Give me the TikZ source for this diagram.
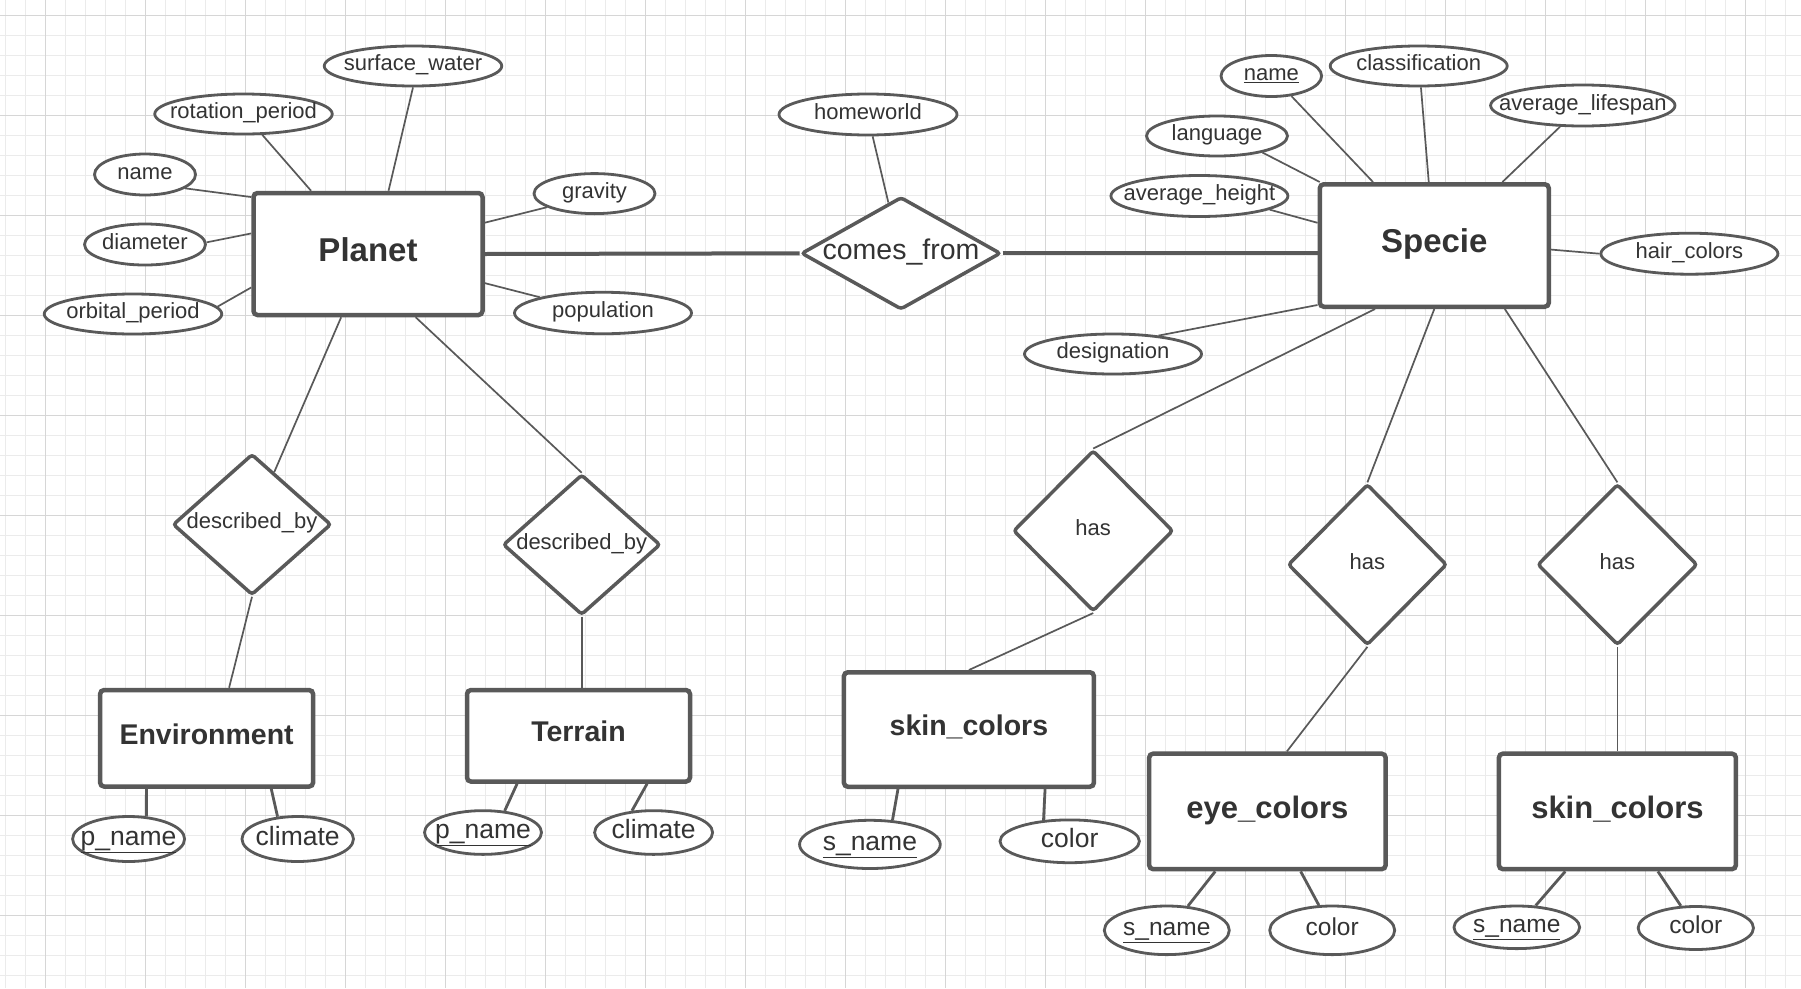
\documentclass[tikz,border=0pt]{standalone}
\usepackage{fontspec}
\setmainfont{Liberation Sans}
\usetikzlibrary{shapes.geometric}
\definecolor{ln}{HTML}{595959}
\definecolor{tx}{HTML}{333333}
\definecolor{gmin}{HTML}{EBEBEB}
\definecolor{gmaj}{HTML}{D6D6D6}
\newcommand\mybox[1]{\makebox[0pt]{#1}}
\begin{document}
\begin{tikzpicture}[x=1pt,y=-1pt,
 ent/.style={draw=ln, line width=4.5pt, rounded corners=4pt, fill=white, text=tx, inner sep=0pt,
   font=\fontsize{28.5}{30}\selectfont\bfseries, text height=20.4pt, text depth=9pt},
 mident/.style={ent, font=\fontsize{31}{33}\selectfont\bfseries, text height=22.2pt},
 bigent/.style={ent, font=\fontsize{33}{35}\selectfont\bfseries, text height=23.6pt},
 attr/.style={ellipse, draw=ln, line width=2.8pt, fill=white, text=tx, inner sep=0pt,
   font=\fontsize{22}{24}\selectfont, text height=15.8pt, text depth=6pt},
 attrL/.style={attr, font=\fontsize{26.5}{28}\selectfont, text height=19pt, text depth=7pt},
 attrM/.style={attr, font=\fontsize{24.5}{26}\selectfont, text height=17.6pt, text depth=7pt},
 rel/.style={diamond, draw=ln, line width=3.5pt, rounded corners=3pt, fill=white, text=tx, inner sep=0pt,
   font=\fontsize{22}{24}\selectfont, text height=15.8pt, text depth=7pt},
 bigrel/.style={rel, font=\fontsize{28.5}{30}\selectfont, text height=20.4pt, text depth=8pt},
 conn/.style={draw=ln, line width=1.7pt},
 conn2/.style={draw=ln, line width=2.8pt},
 bond/.style={draw=ln, line width=4pt},
 gridmin/.style={draw=gmin, line width=1pt},
 gridmaj/.style={draw=gmaj, line width=1pt}
]
\useasboundingbox (0,0) rectangle (1801,988);
\fill[white] (0,0) rectangle (1801,988);
% grid
\foreach \x in {5,25,...,1795} \draw[gridmin] (\x,0) -- (\x,988);
\foreach \y in {15,35,...,975} \draw[gridmin] (0,\y) -- (1801,\y);
\foreach \x in {45,145,...,1745} \draw[gridmaj] (\x,0) -- (\x,988);
\foreach \y in {15,115,...,915} \draw[gridmaj] (0,\y) -- (1801,\y);

% entities
\node[bigent, minimum width=229pt, minimum height=122pt] (planet) at (368,254) {\mybox{Planet}};
\node[bigent, minimum width=229pt, minimum height=122.5pt] (specie) at (1434.3,245.5) {\mybox{Specie}};
\node[ent, minimum width=213pt, minimum height=96.5pt] (env) at (206.6,738.3) {\mybox{Environment}};
\node[ent, minimum width=223pt, minimum height=91.5pt] (terrain) at (578.5,735.8) {\mybox{Terrain}};
\node[ent, minimum width=250pt, minimum height=114.5pt] (skin1) at (968.9,729.5) {\mybox{skin\_colors}};
\node[mident, minimum width=236.5pt, minimum height=115.5pt] (eye) at (1267.4,811.4) {\mybox{eye\_colors}};
\node[mident, minimum width=237pt, minimum height=115.5pt] (skin2) at (1617.4,811.4) {\mybox{skin\_colors}};

% relationships
\node[bigrel, minimum width=199.5pt, minimum height=112.5pt] (comes) at (901,253.3) {\mybox{comes\_from}};
\node[rel, minimum width=158.5pt, minimum height=141pt] (dby1) at (252,524.5) {\mybox{described\_by}};
\node[rel, minimum width=157.5pt, minimum height=140.5pt] (dby2) at (581.7,544.7) {\mybox{described\_by}};
\node[rel, minimum width=160pt, minimum height=161pt] (has1) at (1093.2,530.8) {\mybox{has}};
\node[rel, minimum width=159pt, minimum height=161pt] (has2) at (1367.4,564.6) {\mybox{has}};
\node[rel, minimum width=160pt, minimum height=161pt] (has3) at (1617.4,564.6) {\mybox{has}};

% planet attributes
\node[attr, minimum width=177.5pt, minimum height=40pt] (sw) at (413,66) {\mybox{surface\_water}};
\node[attr, minimum width=177.5pt, minimum height=40pt] (rp) at (243.5,114) {\mybox{rotation\_period}};
\node[attr, minimum width=101pt, minimum height=41pt] (pn) at (145,174.5) {\mybox{name}};
\node[attr, minimum width=121pt, minimum height=41pt] (dia) at (145,244.5) {\mybox{diameter}};
\node[attr, minimum width=177.5pt, minimum height=40pt] (op) at (133,314) {\mybox{orbital\_period}};
\node[attr, minimum width=121pt, minimum height=40pt] (grav) at (594.5,193.6) {\mybox{gravity}};
\node[attr, minimum width=177pt, minimum height=41.5pt] (pop) at (603,313) {\mybox{population}};
\node[attr, minimum width=178pt, minimum height=41pt] (hw) at (868,114.5) {\mybox{homeworld}};

% specie attributes
\node[attr, minimum width=100.6pt, minimum height=41pt] (sn) at (1271.3,76) {\mybox{\underline{name}}};
\node[attr, minimum width=177pt, minimum height=40pt] (cls) at (1418.7,66) {\mybox{classification}};
\node[attr, minimum width=184.4pt, minimum height=41pt] (avl) at (1582.8,105.5) {\mybox{average\_lifespan}};
\node[attr, minimum width=141pt, minimum height=40pt] (lang) at (1217,136) {\mybox{language}};
\node[attr, minimum width=177pt, minimum height=41pt] (avh) at (1199.4,196) {\mybox{average\_height}};
\node[attr, minimum width=177pt, minimum height=41pt] (hair) at (1689.4,253.7) {\mybox{hair\_colors}};
\node[attr, minimum width=177pt, minimum height=40pt] (desig) at (1113,354) {\mybox{designation}};

% lower attributes
\node[attrL, minimum width=112pt, minimum height=45pt] (envp) at (128.6,839) {\mybox{\underline{p\_name}}};
\node[attrL, minimum width=111.5pt, minimum height=45pt] (envc) at (297.7,839) {\mybox{climate}};
\node[attrL, minimum width=117pt, minimum height=43.7pt] (terp) at (483,832.5) {\mybox{\underline{p\_name}}};
\node[attrL, minimum width=118pt, minimum height=43.7pt] (terc) at (653.6,832.5) {\mybox{climate}};
\node[attrL, minimum width=140.7pt, minimum height=48.2pt] (s1n) at (869.9,844.4) {\mybox{\underline{s\_name}}};
\node[attrL, minimum width=139.4pt, minimum height=42.8pt] (s1c) at (1069.7,841.3) {\mybox{color}};
\node[attrM, minimum width=125pt, minimum height=48.6pt] (eyn) at (1166.8,930.3) {\mybox{\underline{s\_name}}};
\node[attrM, minimum width=125pt, minimum height=48.6pt] (eyc) at (1332.2,930.3) {\mybox{color}};
\node[attrM, minimum width=125.7pt, minimum height=42.6pt] (s2n) at (1516.8,927.3) {\mybox{\underline{s\_name}}};
\node[attrM, minimum width=115.3pt, minimum height=43pt] (s2c) at (1695.8,928) {\mybox{color}};

% connectors: planet
\draw[conn] (sw.-90) -- (planet.72);
\draw[conn] (rp.-48) -- (planet.132);
\draw[conn] (pn.-19) -- (planet.154);
\draw[conn] (dia.2) -- (planet.170);
\draw[conn] (op.5) -- (planet.-164);
\draw[conn] (grav.-164) -- (planet.15);
\draw[conn] (pop.166) -- (planet.-14);
\draw[bond] (planet.east) -- (comes.west);
\draw[bond] (comes.east) -- (comes.east -| specie.west);
\draw[conn] (hw.-78) -- (comes.104);

% connectors: specie
\draw[conn] (sn.-45) -- (specie.134);
\draw[conn] (cls.-84) -- (specie.95);
\draw[conn] (avl.-137) -- (specie.43);
\draw[conn] (lang.-20) -- (specie.151);
\draw[conn] (avh.-11) -- (specie.169);
\draw[conn] (hair.180) -- (specie.-2);
\draw[conn] (desig.22) -- (specie.-153);
\draw[conn] (specie.-133) -- (has1.north);
\draw[conn] (specie.south) -- (has2.north);
\draw[conn] (specie.-42) -- (has3.north);
\draw[conn] (has1.south) -- (skin1.north);
\draw[conn] (has2.south) -- (eye.72);
\draw[conn] (has3.south) -- (skin2.north);

% connectors: planet relationships
\draw[conn] (planet.-113.5) -- (dby1.67);
\draw[conn] (planet.-53) -- (dby2.north);
\draw[conn] (dby1.south) -- (env.66);
\draw[conn] (dby2.south) -- (dby2.south |- terrain.north);

% connectors: lower attributes
\draw[conn2] (env.-140) -- (envp.52);
\draw[conn2] (env.-38) -- (envc.132);
\draw[conn2] (terrain.-142) -- (terp.45);
\draw[conn2] (terrain.-35) -- (terc.135);
\draw[conn2] (skin1.-140) -- (s1n.47);
\draw[conn2] (skin1.-38) -- (s1c.141);
\draw[conn2] (eye.-131) -- (eyn.49);
\draw[conn2] (eye.-61.5) -- (eyc.118);
\draw[conn2] (skin2.-131) -- (s2n.49);
\draw[conn2] (skin2.-56) -- (s2c.124);
\end{tikzpicture}
\end{document}
